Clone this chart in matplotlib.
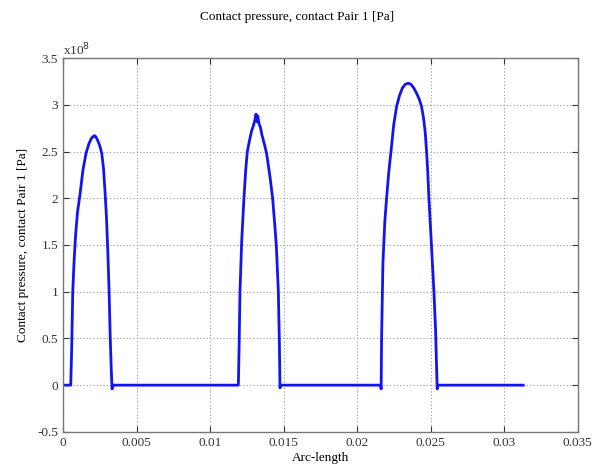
import matplotlib
matplotlib.use("Agg")
import matplotlib.pyplot as plt

plt.rcParams['font.family'] = ['Liberation Serif', 'DejaVu Serif']

# arc-length [m] and contact pressure [x1e8 Pa]
arc1 = [0.0, 0.00052, 0.00058, 0.00066, 0.00074, 0.00085, 0.00098, 0.00116, 0.00135,
        0.00156, 0.00175, 0.00192, 0.00205, 0.00213, 0.00222, 0.00235, 0.00250, 0.00263,
        0.00275, 0.00285, 0.00295, 0.00305, 0.00313, 0.00320, 0.00327, 0.00333, 0.00340]
p1 = [0.0, 0.0, 0.35, 1.0, 1.3, 1.6, 1.85, 2.05, 2.3,
      2.48, 2.58, 2.64, 2.66, 2.67, 2.66, 2.62, 2.56, 2.48,
      2.32, 2.08, 1.8, 1.4, 1.0, 0.55, 0.2, -0.04, 0.0]

arc2 = [0.00340, 0.01192, 0.01197, 0.01203, 0.01215, 0.0123, 0.01242, 0.01253, 0.01268,
        0.01282, 0.01295, 0.01305, 0.01312, 0.01318, 0.01324, 0.01332, 0.01342, 0.01352,
        0.01362, 0.01372, 0.01384, 0.01395, 0.01408, 0.01425, 0.01438, 0.0145, 0.01464,
        0.01471, 0.01475, 0.01480]
p2 = [0.0, 0.0, 0.4, 1.0, 1.55, 2.0, 2.3, 2.5, 2.62,
      2.72, 2.78, 2.84, 2.9, 2.82, 2.88, 2.8, 2.76, 2.68,
      2.62, 2.56, 2.48, 2.36, 2.22, 2.0, 1.75, 1.5, 1.0,
      0.45, -0.03, 0.0]

arc3 = [0.01480, 0.02160, 0.02163, 0.02166, 0.02175, 0.02188, 0.02200, 0.02215, 0.0223,
        0.02248, 0.02268, 0.02288, 0.02308, 0.02328, 0.02347, 0.02365, 0.02385, 0.02405,
        0.02422, 0.02438, 0.02452, 0.02463, 0.02472, 0.02480, 0.02488, 0.02505, 0.02522,
        0.02533, 0.02540, 0.02544, 0.02550, 0.03129]
p3 = [0.0, 0.0, -0.04, 0.5, 1.3, 1.75, 2.0, 2.28, 2.5,
      2.78, 2.98, 3.1, 3.18, 3.22, 3.23, 3.22, 3.18, 3.12,
      3.06, 2.98, 2.85, 2.7, 2.5, 2.28, 2.0, 1.5, 1.0,
      0.6, 0.2, -0.04, 0.0, 0.0]

arc = arc1 + arc2[1:] + arc3[1:]
pressure = p1 + p2[1:] + p3[1:]

xticks = [0, 0.005, 0.01, 0.015, 0.02, 0.025, 0.03, 0.035]
xticklabels = ['0', '0.005', '0.01', '0.015', '0.02', '0.025', '0.03', '0.035']
yticks = [-0.5, 0, 0.5, 1, 1.5, 2, 2.5, 3, 3.5]
yticklabels = ['-0.5', '0', '0.5', '1', '1.5', '2', '2.5', '3', '3.5']

fig = plt.figure(figsize=(5.95, 4.72), dpi=100)
ax = fig.add_axes([0.106, 0.085, 0.865, 0.792])

ax.plot(arc, pressure, color='#1414f0', lw=2.0)

ax.set_xlim(0, 0.035)
ax.set_ylim(-0.5, 3.5)
ax.set_xticks(xticks)
ax.set_xticklabels(xticklabels)
ax.set_yticks(yticks)
ax.set_yticklabels(yticklabels)
ax.tick_params(direction='in', labelsize=9.5, colors='#333333', length=4, width=0.8,
               top=True, right=True)
ax.grid(True, linestyle=(0, (1, 2)), color='#999999', lw=0.8)
for s in ax.spines.values():
    s.set_color('#777777')
    s.set_linewidth(1.0)

ax.text(0.0, 1.0, r'x10$^8$', transform=ax.transAxes, fontsize=9.5, color='#333333',
        va='bottom', ha='left')
ax.set_xlabel('Arc-length', fontsize=9.5, labelpad=2)
ax.set_ylabel('Contact pressure, contact Pair 1 [Pa]', fontsize=9.5, labelpad=6)
fig.text(0.5, 0.965, 'Contact pressure, contact Pair 1 [Pa]', ha='center', va='center',
         fontsize=9.5)

fig.savefig('out.png', dpi=100)
